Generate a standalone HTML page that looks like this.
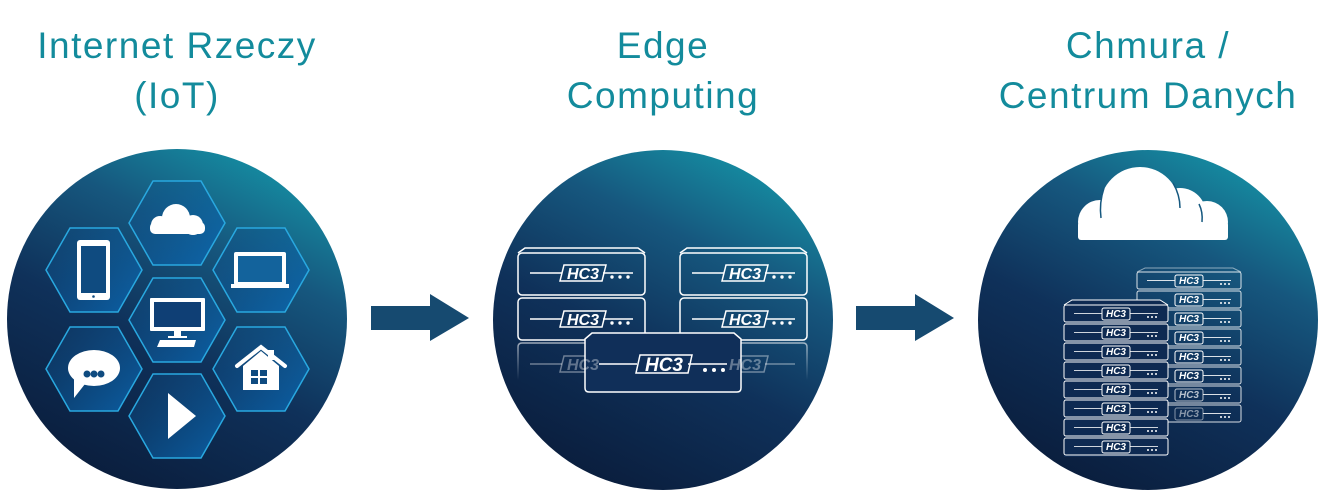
<!DOCTYPE html>
<html><head><meta charset="utf-8"><style>
html,body{margin:0;padding:0;background:#fff;width:1328px;height:500px;overflow:hidden}
svg{display:block}
.t{font-family:"Liberation Sans",sans-serif;font-size:37px;fill:#138b9c;text-anchor:middle;letter-spacing:1.5px}
.hc{font-family:"Liberation Sans",sans-serif;font-weight:bold;font-style:italic;fill:#fff;text-anchor:middle}
</style></head><body>
<svg width="1328" height="500" viewBox="0 0 1328 500" xmlns="http://www.w3.org/2000/svg">
<defs>
<linearGradient id="bg" x1="0.8" y1="0" x2="0.3" y2="1">
<stop offset="0" stop-color="#1596a8"/>
<stop offset="0.3" stop-color="#16577e"/>
<stop offset="0.6" stop-color="#0f315a"/>
<stop offset="1" stop-color="#0a1d3c"/>
</linearGradient>
<linearGradient id="hx" x1="0" y1="0" x2="1" y2="1">
<stop offset="0" stop-color="#0f4b80" stop-opacity="0.3"/>
<stop offset="1" stop-color="#0a6bb8" stop-opacity="0.8"/>
</linearGradient>
<linearGradient id="fade" x1="0" y1="0" x2="0" y2="1">
<stop offset="0" stop-color="#fff" stop-opacity="0.6"/>
<stop offset="1" stop-color="#fff" stop-opacity="0"/>
</linearGradient>
<clipPath id="cc"><rect x="1070" y="150" width="170" height="90"/></clipPath>
</defs>

<text class="t" x="177" y="58">Internet Rzeczy</text>
<text class="t" x="177" y="108">(IoT)</text>
<text class="t" x="663" y="58">Edge</text>
<text class="t" x="663" y="108">Computing</text>
<text class="t" x="1148" y="58">Chmura /</text>
<text class="t" x="1148" y="108">Centrum Danych</text>

<circle cx="177" cy="319" r="170" fill="url(#bg)"/>
<circle cx="663" cy="320" r="170" fill="url(#bg)"/>
<circle cx="1148" cy="320" r="170" fill="url(#bg)"/>

<polygon points="371,306 430,306 430,294 469,318 430,341 430,330 371,330" fill="#164a70"/>
<polygon points="856,306 915,306 915,294 954,318 915,341 915,330 856,330" fill="#164a70"/>

<g fill="url(#hx)" stroke="#29a8e0" stroke-width="1.5">
<polygon points="129,223 153,181 201,181 225,223 201,265 153,265"/>
<polygon points="46,270 70,228 118,228 142,270 118,312 70,312"/>
<polygon points="213,270 237,228 285,228 309,270 285,312 237,312"/>
<polygon points="129,320 153,278 201,278 225,320 201,362 153,362"/>
<polygon points="46,369 70,327 118,327 142,369 118,411 70,411"/>
<polygon points="213,369 237,327 285,327 309,369 285,411 237,411"/>
<polygon points="129,416 153,374 201,374 225,416 201,458 153,458"/>
</g>
<g fill="#fff">
<circle cx="176" cy="218" r="14"/><circle cx="160" cy="225" r="9"/><circle cx="193" cy="225" r="10"/><rect x="150" y="222" width="55" height="12" rx="5"/>
<rect x="77" y="240" width="33" height="60" rx="3"/><rect x="81" y="246" width="25" height="47" fill="#0f4b80"/><circle cx="93.5" cy="296.5" r="1.3" fill="#0f4b80"/>
<rect x="234" y="252" width="52" height="33" rx="2"/><rect x="238" y="256" width="44" height="26" fill="#13639c"/><rect x="231" y="284" width="58" height="4"/>
<rect x="150" y="298" width="55" height="33" rx="1"/><rect x="154" y="302" width="47" height="25" fill="#0f3f75"/><rect x="174" y="330" width="7" height="6"/><rect x="168" y="336" width="19" height="2"/><polygon points="160,340 196,340 194,347 157,347"/>
<ellipse cx="94" cy="368" rx="26" ry="18"/><polygon points="74,375 85,384 74,398"/><circle cx="87" cy="374" r="3.5" fill="#0f4b80"/><circle cx="94" cy="374" r="3.5" fill="#0f4b80"/><circle cx="101" cy="374" r="3.5" fill="#0f4b80"/>
<polygon points="243,366 261,351 279,366 279,390 243,390"/><polyline points="237,366 261,347 285,366" fill="none" stroke="#fff" stroke-width="4" stroke-linecap="round"/><rect x="268" y="350" width="6" height="10"/><rect x="251" y="370" width="7" height="6" fill="#0f4b80"/><rect x="260" y="370" width="7" height="6" fill="#0f4b80"/><rect x="251" y="378" width="7" height="6" fill="#0f4b80"/><rect x="260" y="378" width="7" height="6" fill="#0f4b80"/>
<polygon points="168,393 196,416 168,439"/>
</g>
<!-- right cloud -->
<g clip-path="url(#cc)" fill="#fff">
<circle cx="1100" cy="222" r="22"/>
<circle cx="1207" cy="222" r="21"/>
<circle cx="1180" cy="214" r="26"/>
<circle cx="1140" cy="207" r="40"/>
<rect x="1078" y="222" width="150" height="18" rx="3"/>
</g>
<g fill="none" stroke="#15587f" stroke-width="1.5">
<path d="M1104,188 Q1099,203 1101,218"/>
<path d="M1173,183 Q1180,195 1180,208"/>
<path d="M1199,204 Q1203,212 1202,222"/>
</g>

<!-- edge servers -->
<g stroke="#fff" stroke-width="1.5" fill="none">
<path d="M518,253 L525,248 L638,248 L645,253"/><rect x="518" y="253" width="127" height="42" rx="4"/><line x1="530" y1="273" x2="562" y2="273"/><line x1="603" y1="273" x2="633" y2="273"/><path d="M564,265 L606,265 L602,281 L560,281 Z"/>
<rect x="518" y="298" width="127" height="42" rx="4"/><line x1="530" y1="319" x2="562" y2="319"/><line x1="603" y1="319" x2="633" y2="319"/><path d="M564,311 L606,311 L602,327 L560,327 Z"/>
<path d="M680,253 L687,248 L800,248 L807,253"/><rect x="680" y="253" width="127" height="42" rx="4"/><line x1="692" y1="273" x2="724" y2="273"/><line x1="765" y1="273" x2="795" y2="273"/><path d="M726,265 L768,265 L764,281 L722,281 Z"/>
<rect x="680" y="298" width="127" height="42" rx="4"/><line x1="692" y1="319" x2="724" y2="319"/><line x1="765" y1="319" x2="795" y2="319"/><path d="M726,311 L768,311 L764,327 L722,327 Z"/>
<g stroke="url(#fade)"><path d="M518,380 L518,347 Q518,343 522,343 L641,343 Q645,343 645,347 L645,380"/><path d="M680,380 L680,347 Q680,343 684,343 L803,343 Q807,343 807,347 L807,380"/></g>
<g stroke-opacity="0.4"><line x1="530" y1="364" x2="562" y2="364"/><path d="M564,356 L606,356 L602,372 L560,372 Z"/><path d="M726,356 L768,356 L764,372 L722,372 Z"/><line x1="765" y1="364" x2="795" y2="364"/></g>
</g>
<path d="M585,339 L592,333 L734,333 L741,339 L741,388 Q741,392 737,392 L589,392 Q585,392 585,388 Z" fill="#102f59" stroke="#fff" stroke-width="1.5"/>
<g stroke="#fff" stroke-width="1.5" fill="none"><line x1="599" y1="364" x2="637" y2="364"/><line x1="688" y1="364" x2="727" y2="364"/><path d="M640,355 L692,355 L688,373 L636,373 Z"/></g>
<g class="hc"><text x="583" y="279" font-size="16">HC3</text><text x="583" y="325" font-size="16">HC3</text><text x="745" y="279" font-size="16">HC3</text><text x="745" y="325" font-size="16">HC3</text><text x="664" y="371" font-size="19">HC3</text>
<text x="583" y="370" font-size="16" opacity="0.35">HC3</text><text x="745" y="370" font-size="16" opacity="0.35">HC3</text></g>
<g fill="#fff"><circle cx="612" cy="277" r="1.7"/><circle cx="620" cy="277" r="1.7"/><circle cx="628" cy="277" r="1.7"/><circle cx="612" cy="323" r="1.7"/><circle cx="620" cy="323" r="1.7"/><circle cx="628" cy="323" r="1.7"/><circle cx="774" cy="277" r="1.7"/><circle cx="782" cy="277" r="1.7"/><circle cx="790" cy="277" r="1.7"/><circle cx="774" cy="323" r="1.7"/><circle cx="782" cy="323" r="1.7"/><circle cx="790" cy="323" r="1.7"/><circle cx="705" cy="370" r="2"/><circle cx="714" cy="370" r="2"/><circle cx="723" cy="370" r="2"/></g>

<!-- datacenter back rack -->
<g stroke="#fff" stroke-width="1" fill="none" opacity="0.85">
<path d="M1137,272 L1145,268 L1233,268 L1241,272" stroke-opacity="0.6"/>
<rect x="1137" y="272" width="104" height="17" rx="2"/>
<rect x="1137" y="291" width="104" height="17" rx="2"/>
<rect x="1137" y="310" width="104" height="17" rx="2"/>
<rect x="1137" y="329" width="104" height="17" rx="2"/>
<rect x="1137" y="348" width="104" height="17" rx="2"/>
<rect x="1137" y="367" width="104" height="17" rx="2"/>
<rect x="1137" y="386" width="104" height="17" rx="2"/>
<rect x="1137" y="405" width="104" height="17" rx="2"/>
<line x1="1147" y1="280.5" x2="1175" y2="280.5"/><line x1="1203" y1="280.5" x2="1231" y2="280.5"/>
<line x1="1203" y1="299.5" x2="1231" y2="299.5"/><line x1="1203" y1="318.5" x2="1231" y2="318.5"/><line x1="1203" y1="337.5" x2="1231" y2="337.5"/><line x1="1203" y1="356.5" x2="1231" y2="356.5"/><line x1="1203" y1="375.5" x2="1231" y2="375.5"/><line x1="1203" y1="394.5" x2="1231" y2="394.5"/><line x1="1203" y1="413.5" x2="1231" y2="413.5"/>
</g>
<g class="hc" font-size="10">
<text x="1189" y="284">HC3</text><text x="1189" y="303">HC3</text><text x="1189" y="322">HC3</text><text x="1189" y="341">HC3</text><text x="1189" y="360">HC3</text><text x="1189" y="379">HC3</text><text x="1189" y="398" opacity="0.7">HC3</text><text x="1189" y="417" opacity="0.5">HC3</text>
</g>
<g stroke="#fff" stroke-width="1" fill="none">
<rect x="1175" y="275" width="28" height="12" rx="2"/><rect x="1175" y="294" width="28" height="12" rx="2"/><rect x="1175" y="313" width="28" height="12" rx="2"/><rect x="1175" y="332" width="28" height="12" rx="2"/><rect x="1175" y="351" width="28" height="12" rx="2"/><rect x="1175" y="370" width="28" height="12" rx="2"/><rect x="1175" y="389" width="28" height="12" rx="2" opacity="0.7"/><rect x="1175" y="408" width="28" height="12" rx="2" opacity="0.5"/>
</g>
<g fill="#fff"><circle cx="1221" cy="284" r="1"/><circle cx="1225" cy="284" r="1"/><circle cx="1229" cy="284" r="1"/><circle cx="1221" cy="303" r="1"/><circle cx="1225" cy="303" r="1"/><circle cx="1229" cy="303" r="1"/><circle cx="1221" cy="322" r="1"/><circle cx="1225" cy="322" r="1"/><circle cx="1229" cy="322" r="1"/><circle cx="1221" cy="341" r="1"/><circle cx="1225" cy="341" r="1"/><circle cx="1229" cy="341" r="1"/><circle cx="1221" cy="360" r="1"/><circle cx="1225" cy="360" r="1"/><circle cx="1229" cy="360" r="1"/><circle cx="1221" cy="379" r="1"/><circle cx="1225" cy="379" r="1"/><circle cx="1229" cy="379" r="1"/><circle cx="1221" cy="398" r="1"/><circle cx="1225" cy="398" r="1"/><circle cx="1229" cy="398" r="1"/><circle cx="1221" cy="417" r="1"/><circle cx="1225" cy="417" r="1"/><circle cx="1229" cy="417" r="1"/></g>

<!-- front rack -->
<path d="M1064,305 L1072,300 L1160,300 L1168,305 L1168,457 L1064,457 Z" fill="#0e2a52"/>
<g stroke="#fff" stroke-width="1" fill="none">
<path d="M1064,305 L1072,300 L1160,300 L1168,305"/>
<rect x="1064" y="305" width="104" height="17" rx="2"/>
<rect x="1064" y="324" width="104" height="17" rx="2"/>
<rect x="1064" y="343" width="104" height="17" rx="2"/>
<rect x="1064" y="362" width="104" height="17" rx="2"/>
<rect x="1064" y="381" width="104" height="17" rx="2"/>
<rect x="1064" y="400" width="104" height="17" rx="2"/>
<rect x="1064" y="419" width="104" height="17" rx="2"/>
<rect x="1064" y="438" width="104" height="17" rx="2"/>
<rect x="1102" y="308" width="28" height="12" rx="2"/><rect x="1102" y="327" width="28" height="12" rx="2"/><rect x="1102" y="346" width="28" height="12" rx="2"/><rect x="1102" y="365" width="28" height="12" rx="2"/><rect x="1102" y="384" width="28" height="12" rx="2"/><rect x="1102" y="403" width="28" height="12" rx="2"/><rect x="1102" y="422" width="28" height="12" rx="2"/><rect x="1102" y="441" width="28" height="12" rx="2"/>
<g stroke-opacity="0.8">
<line x1="1074" y1="313.5" x2="1102" y2="313.5"/><line x1="1130" y1="313.5" x2="1158" y2="313.5"/>
<line x1="1074" y1="332.5" x2="1102" y2="332.5"/><line x1="1130" y1="332.5" x2="1158" y2="332.5"/>
<line x1="1074" y1="351.5" x2="1102" y2="351.5"/><line x1="1130" y1="351.5" x2="1158" y2="351.5"/>
<line x1="1074" y1="370.5" x2="1102" y2="370.5"/><line x1="1130" y1="370.5" x2="1158" y2="370.5"/>
<line x1="1074" y1="389.5" x2="1102" y2="389.5"/><line x1="1130" y1="389.5" x2="1158" y2="389.5"/>
<line x1="1074" y1="408.5" x2="1102" y2="408.5"/><line x1="1130" y1="408.5" x2="1158" y2="408.5"/>
<line x1="1074" y1="427.5" x2="1102" y2="427.5"/><line x1="1130" y1="427.5" x2="1158" y2="427.5"/>
<line x1="1074" y1="446.5" x2="1102" y2="446.5"/><line x1="1130" y1="446.5" x2="1158" y2="446.5"/>
</g>
</g>
<g class="hc" font-size="10">
<text x="1116" y="317">HC3</text><text x="1116" y="336">HC3</text><text x="1116" y="355">HC3</text><text x="1116" y="374">HC3</text><text x="1116" y="393">HC3</text><text x="1116" y="412">HC3</text><text x="1116" y="431">HC3</text><text x="1116" y="450">HC3</text>
</g>
<g fill="#fff"><circle cx="1148" cy="317" r="1"/><circle cx="1152" cy="317" r="1"/><circle cx="1156" cy="317" r="1"/><circle cx="1148" cy="336" r="1"/><circle cx="1152" cy="336" r="1"/><circle cx="1156" cy="336" r="1"/><circle cx="1148" cy="355" r="1"/><circle cx="1152" cy="355" r="1"/><circle cx="1156" cy="355" r="1"/><circle cx="1148" cy="374" r="1"/><circle cx="1152" cy="374" r="1"/><circle cx="1156" cy="374" r="1"/><circle cx="1148" cy="393" r="1"/><circle cx="1152" cy="393" r="1"/><circle cx="1156" cy="393" r="1"/><circle cx="1148" cy="412" r="1"/><circle cx="1152" cy="412" r="1"/><circle cx="1156" cy="412" r="1"/><circle cx="1148" cy="431" r="1"/><circle cx="1152" cy="431" r="1"/><circle cx="1156" cy="431" r="1"/><circle cx="1148" cy="450" r="1"/><circle cx="1152" cy="450" r="1"/><circle cx="1156" cy="450" r="1"/></g>
</svg>
</body></html>
